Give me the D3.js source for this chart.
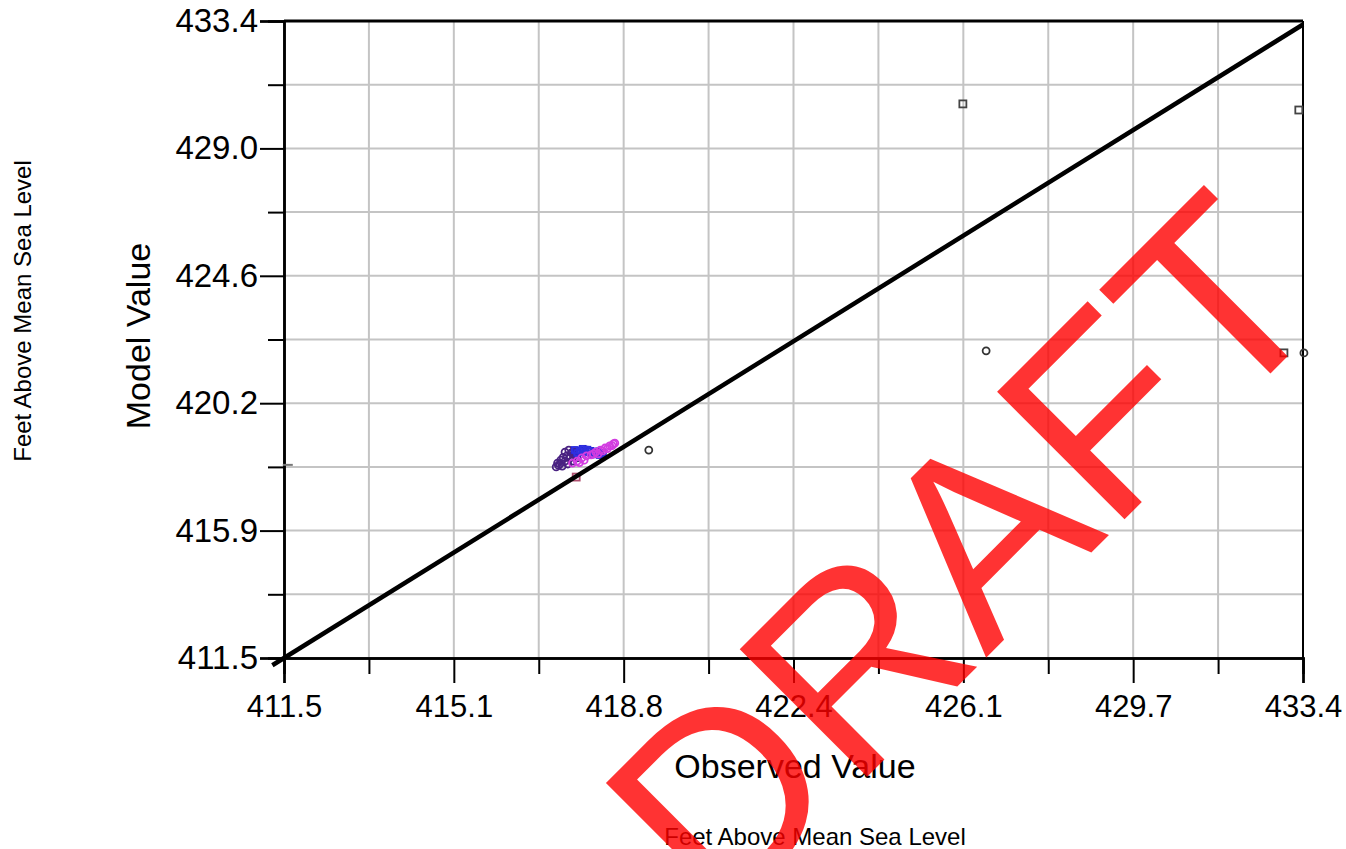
<!DOCTYPE html>
<html>
<head>
<meta charset="utf-8">
<script src="https://cdn.jsdelivr.net/npm/d3@7"></script>
<style>
  body { margin: 0; background: #fff; }
  text { font-family: "Liberation Sans", Arial, sans-serif; }
</style>
</head>
<body>
<div id="chart"></div>
<script>
// axis ticks
let xTickLabels = ["411.5", "415.1", "418.8", "422.4", "426.1", "429.7", "433.4"];
let yTickLabels = ["411.5", "415.9", "420.2", "424.6", "429.0", "433.4"];
let axisMin = 411.5;
let axisMax = 433.4;

// scattered gray markers (observed, model)
let graySquares = [[426.09, 430.55], [433.31, 430.34], [432.99, 421.99]];
let grayCircles = [[426.59, 422.06], [433.42, 421.99], [419.34, 418.65]];
let grayDash = [[411.56, 418.14]];

// the dense cluster around 418
let purplePoints = [[417.35, 418.07], [417.43, 418.17], [417.48, 418.10], [417.54, 418.27], [417.60, 418.17],
  [417.65, 418.38], [417.70, 418.27], [417.75, 418.48], [417.54, 418.58], [417.62, 418.65],
  [417.45, 418.30], [417.80, 418.38], [417.38, 418.20], [417.68, 418.55], [417.50, 418.40],
  [417.58, 418.45], [417.40, 418.12], [417.72, 418.60]];
let bluePoints = [[417.75, 418.65], [417.86, 418.62], [417.97, 418.58], [418.08, 418.62], [418.18, 418.55],
  [418.29, 418.48], [417.92, 418.69], [418.35, 418.55], [418.02, 418.66], [417.80, 418.55],
  [418.12, 418.50], [418.24, 418.60]];
let magentaPoints = [[417.90, 418.38], [418.00, 418.45], [418.10, 418.48], [418.20, 418.58], [418.30, 418.65],
  [418.40, 418.72], [418.50, 418.79], [418.58, 418.86], [418.61, 418.89], [417.80, 418.27],
  [417.70, 418.20], [418.45, 418.70], [418.15, 418.52], [417.95, 418.30], [418.25, 418.52],
  [418.35, 418.62], [418.55, 418.80], [417.85, 418.22]];
let pinkSquares = [[417.78, 417.72]];

let svgWidth = 1346;
let svgHeight = 849;
let margin = {top: 21, left: 284, right: 43, bottom: 191};
let width = svgWidth - margin.left - margin.right;
let height = svgHeight - margin.top - margin.bottom;

let svg = d3.select("#chart").append("svg")
  .attr("width", svgWidth)
  .attr("height", svgHeight);

let chartGroup = svg.append("g")
  .attr("transform", `translate(${margin.left}, ${margin.top})`);

let x = d3.scaleLinear().domain([axisMin, axisMax]).range([0, width]);
let y = d3.scaleLinear().domain([axisMin, axisMax]).range([height, 0]);

let xStep = (axisMax - axisMin) / (xTickLabels.length - 1);
let yStep = (axisMax - axisMin) / (yTickLabels.length - 1);
let xMajor = xTickLabels.map((d, i) => axisMin + i * xStep);
let yMajor = yTickLabels.map((d, i) => axisMin + i * yStep);
let xMinor = xMajor.slice(1).map(d => d - xStep / 2);
let yMinor = yMajor.slice(1).map(d => d - yStep / 2);

// grid
chartGroup.append("g").selectAll("line")
  .data(xMajor.concat(xMinor))
  .enter().append("line")
  .attr("x1", d => x(d)).attr("x2", d => x(d))
  .attr("y1", 0).attr("y2", height)
  .attr("stroke", "#c4c4c4").attr("stroke-width", 2);

chartGroup.append("g").selectAll("line")
  .data(yMajor.concat(yMinor))
  .enter().append("line")
  .attr("y1", d => y(d)).attr("y2", d => y(d))
  .attr("x1", 0).attr("x2", width)
  .attr("stroke", "#c4c4c4").attr("stroke-width", 2);

// frame top + right
chartGroup.append("line")
  .attr("x1", 0).attr("x2", width).attr("y1", 0).attr("y2", 0)
  .attr("stroke", "#000").attr("stroke-width", 3);
chartGroup.append("line")
  .attr("x1", width).attr("x2", width).attr("y1", 0).attr("y2", height)
  .attr("stroke", "#000").attr("stroke-width", 2);

// axes
let xAxis = chartGroup.append("g")
  .attr("transform", `translate(0, ${height})`)
  .call(d3.axisBottom(x).tickValues(xMajor).tickSize(25)
    .tickFormat((d, i) => xTickLabels[i]).tickPadding(12));
chartGroup.append("g")
  .attr("transform", `translate(0, ${height})`)
  .call(d3.axisBottom(x).tickValues(xMinor).tickSize(16).tickFormat(""));

let yAxis = chartGroup.append("g")
  .call(d3.axisLeft(y).tickValues(yMajor).tickSize(24)
    .tickFormat((d, i) => yTickLabels[i]).tickPadding(2));
chartGroup.append("g")
  .call(d3.axisLeft(y).tickValues(yMinor).tickSize(16).tickFormat(""));

chartGroup.selectAll(".domain").attr("stroke", "#000").attr("stroke-width", 2.5);
chartGroup.selectAll(".tick line").attr("stroke", "#000").attr("stroke-width", 2);
xAxis.selectAll("text").attr("font-size", "31px").attr("fill", "#000")
  .attr("font-family", "'Liberation Sans', Arial, sans-serif");
yAxis.selectAll("text").attr("font-size", "33px").attr("fill", "#000")
  .attr("font-family", "'Liberation Sans', Arial, sans-serif");

// markers
function squares(data, color, size) {
  chartGroup.append("g").selectAll("rect")
    .data(data).enter().append("rect")
    .attr("x", d => x(d[0]) - size / 2)
    .attr("y", d => y(d[1]) - size / 2)
    .attr("width", size).attr("height", size)
    .attr("fill", "none").attr("stroke", color).attr("stroke-width", 1.8);
}
function circles(data, color, r) {
  chartGroup.append("g").selectAll("circle")
    .data(data).enter().append("circle")
    .attr("cx", d => x(d[0]))
    .attr("cy", d => y(d[1]))
    .attr("r", r)
    .attr("fill", "none").attr("stroke", color).attr("stroke-width", 1.8);
}

squares(graySquares, "#444", 7);
circles(grayCircles, "#333", 3.5);
chartGroup.append("g").selectAll("line")
  .data(grayDash).enter().append("line")
  .attr("x1", d => x(d[0]) - 4).attr("x2", d => x(d[0]) + 6)
  .attr("y1", d => y(d[1])).attr("y2", d => y(d[1]))
  .attr("stroke", "#777").attr("stroke-width", 2);

squares(pinkSquares, "#b05070", 7);
circles(purplePoints, "#4a2282", 3.5);
squares(bluePoints, "#2626d6", 6);
circles(bluePoints, "#3030e0", 3);
circles(magentaPoints, "#d23ce0", 3.5);

// 1:1 line
chartGroup.append("line")
  .attr("x1", x(411.25)).attr("y1", y(411.25))
  .attr("x2", x(axisMax)).attr("y2", y(axisMax - 0.12))
  .attr("stroke", "#000").attr("stroke-width", 4.5);

// axis titles
svg.append("text")
  .attr("x", 795).attr("y", 778)
  .attr("text-anchor", "middle")
  .attr("font-size", "34px")
  .text("Observed Value");

svg.append("text")
  .attr("transform", "translate(150, 336) rotate(-90)")
  .attr("text-anchor", "middle")
  .attr("font-size", "34px")
  .text("Model Value");

svg.append("text")
  .attr("x", 815).attr("y", 845)
  .attr("text-anchor", "middle")
  .attr("font-size", "24px")
  .text("Feet Above Mean Sea Level");

svg.append("text")
  .attr("transform", "translate(31, 311) rotate(-90)")
  .attr("text-anchor", "middle")
  .attr("font-size", "24px")
  .text("Feet Above Mean Sea Level");

// watermark
svg.append("text")
  .attr("transform", "translate(978, 568) rotate(-45)")
  .attr("text-anchor", "middle")
  .attr("dominant-baseline", "middle")
  .attr("font-size", "262px")
  .attr("fill", "#ff0000")
  .attr("fill-opacity", 0.8)
  .text("DRAFT");
</script>
</body>
</html>
